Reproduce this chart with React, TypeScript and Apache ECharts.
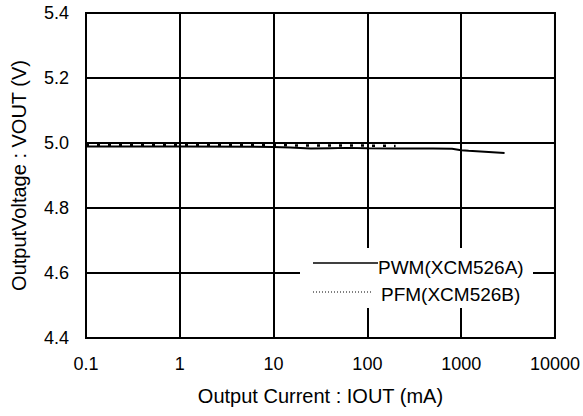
import React, { useEffect, useRef } from "react";
import * as echarts from "echarts";

const seriesNames = ["PWM(XCM526A)", "PFM(XCM526B)"];
const xTickLabels = ["0.1", "1", "10", "100", "1000", "10000"];
const pwmCurrent = [0.1, 1, 10, 15, 25, 40, 60, 100, 200, 500, 800, 1000, 1200, 2900];
const pwmVoltage = [4.989, 4.989, 4.988, 4.986, 4.983, 4.984, 4.985, 4.984, 4.983, 4.983, 4.982, 4.978, 4.976, 4.969];
const pfmCurrent = [0.1, 1, 10, 30, 100, 200];
const pfmVoltage = [4.993, 4.993, 4.993, 4.992, 4.992, 4.991];
const xAxisTitle = "Output Current : IOUT (mA)";
const yAxisTitle = "OutputVoltage : VOUT (V)";

const FONT = '"Liberation Sans", Arial, sans-serif';

export default function App() {
  const ref = useRef<HTMLDivElement>(null);
  useEffect(() => {
    if (!ref.current) return;
    const chart = echarts.init(ref.current, null, { renderer: "svg" });
    const pwmData = pwmCurrent.map((x, i) => [x, pwmVoltage[i]]);
    const pfmData = pfmCurrent.map((x, i) => [x, pfmVoltage[i]]);
    chart.setOption({
      animation: false,
      backgroundColor: "#fff",
      textStyle: { fontFamily: FONT, color: "#000" },
      grid: {
        left: 86,
        right: 28,
        top: 13,
        bottom: 78,
        show: true,
        borderColor: "#000",
        borderWidth: 2,
        backgroundColor: "transparent",
      },
      xAxis: {
        type: "log",
        logBase: 10,
        min: 0.1,
        max: 10000,
        name: xAxisTitle,
        nameLocation: "middle",
        nameGap: 48,
        nameTextStyle: { fontSize: 20, color: "#000", fontFamily: FONT },
        axisLine: { show: true, lineStyle: { color: "#000", width: 2 } },
        axisTick: { show: false },
        splitLine: { show: true, lineStyle: { color: "#000", width: 2 } },
        minorSplitLine: { show: false },
        axisLabel: {
          fontSize: 18,
          color: "#000",
          margin: 17,
          fontFamily: FONT,
          formatter: (v: number, i: number) => xTickLabels[i] ?? String(v),
        },
      },
      yAxis: {
        type: "value",
        min: 4.4,
        max: 5.4,
        interval: 0.2,
        name: yAxisTitle,
        nameLocation: "middle",
        nameGap: 57,
        nameTextStyle: { fontSize: 20, color: "#000", fontFamily: FONT },
        axisLine: { show: true, lineStyle: { color: "#000", width: 2 } },
        axisTick: { show: false },
        splitLine: { show: true, lineStyle: { color: "#000", width: 2 } },
        axisLabel: {
          fontSize: 18,
          color: "#000",
          margin: 17,
          fontFamily: FONT,
          formatter: (v: number) => v.toFixed(1),
        },
      },
      series: [
        {
          name: seriesNames[0],
          type: "line",
          data: pwmData,
          symbol: "none",
          lineStyle: { color: "#000", width: 2 },
          z: 3,
        },
        {
          name: seriesNames[1],
          type: "line",
          data: pfmData,
          symbol: "none",
          lineStyle: { color: "#000", width: 2.5, type: [3, 8], cap: "butt" },
          z: 4,
        },
      ],
      graphic: [
        {
          type: "rect",
          z: 100,
          shape: { x: 300, y: 248, width: 233, height: 60 },
          style: { fill: "#fff" },
        },
        {
          type: "line",
          z: 101,
          shape: { x1: 313, y1: 263, x2: 378, y2: 263 },
          style: { stroke: "#000", lineWidth: 1.5 },
        },
        {
          type: "line",
          z: 101,
          shape: { x1: 313, y1: 292, x2: 371, y2: 292 },
          style: { stroke: "#000", lineWidth: 1, lineDash: [1, 2] },
        },
        {
          type: "text",
          z: 101,
          x: 378,
          y: 267,
          style: {
            text: seriesNames[0],
            fontSize: 19,
            fontFamily: FONT,
            fill: "#000",
            align: "left",
            verticalAlign: "middle",
          },
        },
        {
          type: "text",
          z: 101,
          x: 381,
          y: 294,
          style: {
            text: seriesNames[1],
            fontSize: 19,
            fontFamily: FONT,
            fill: "#000",
            align: "left",
            verticalAlign: "middle",
          },
        },
      ],
    });
    return () => chart.dispose();
  }, []);
  return (
    <div
      ref={ref}
      style={{ position: "fixed", left: 0, top: 0, width: 583, height: 416, background: "#fff" }}
    />
  );
}
